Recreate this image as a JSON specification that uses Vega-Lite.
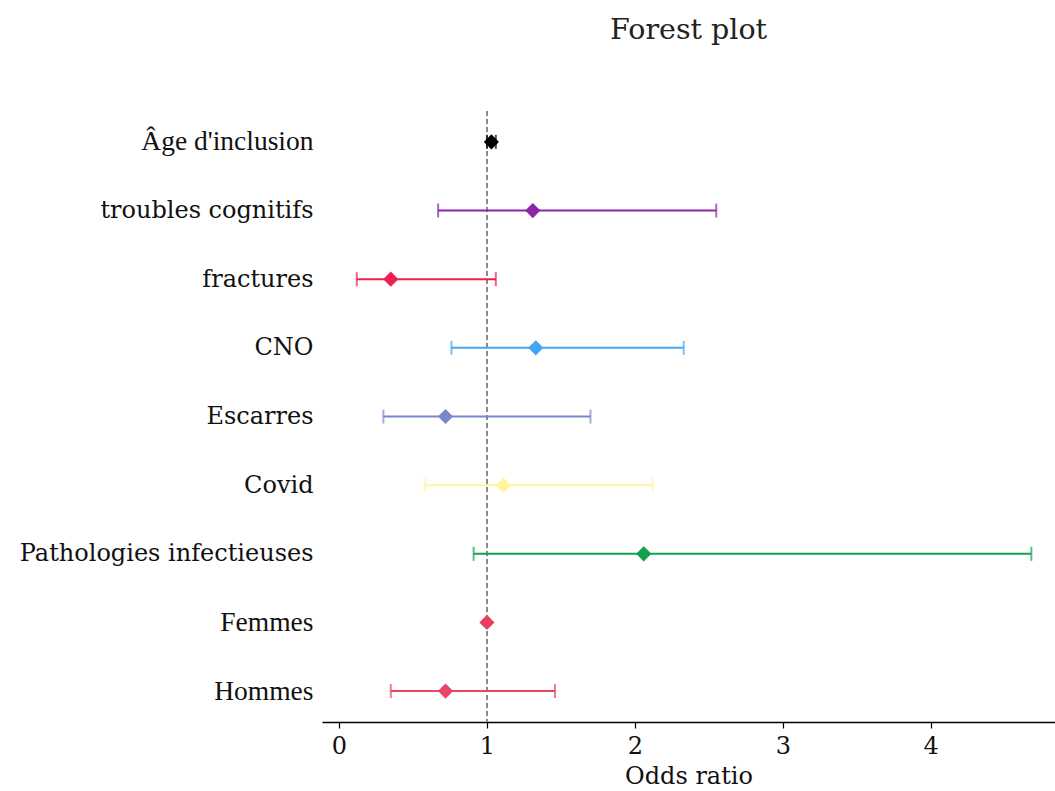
{
  "$schema": "https://vega.github.io/schema/vega-lite/v6.json",
  "autosize": "none",
  "padding": {"left": 322, "top": 111, "right": 0, "bottom": 69},
  "width": 733,
  "height": 611,
  "background": "white",
  "view": {"stroke": null},
  "title": {"text": "Forest plot", "font": "DejaVu Serif", "fontSize": 28.5, "fontWeight": "normal", "color": "#222", "offset": 66, "anchor": "middle"},
  "data": {"values": [
    {"label": "Âge d'inclusion", "or": 1.03, "low": 1.0, "high": 1.06},
    {"label": "troubles cognitifs", "or": 1.31, "low": 0.67, "high": 2.55},
    {"label": "fractures", "or": 0.35, "low": 0.12, "high": 1.06},
    {"label": "CNO", "or": 1.33, "low": 0.76, "high": 2.33},
    {"label": "Escarres", "or": 0.72, "low": 0.30, "high": 1.70},
    {"label": "Covid", "or": 1.11, "low": 0.58, "high": 2.12},
    {"label": "Pathologies infectieuses", "or": 2.06, "low": 0.91, "high": 4.68},
    {"label": "Femmes", "or": 1.0, "low": null, "high": null},
    {"label": "Hommes", "or": 0.72, "low": 0.35, "high": 1.46}
  ]},
  "encoding": {
    "y": {
      "field": "label", "type": "nominal", "title": null,
      "scale": {"type": "point", "padding": 0.45, "domain": ["Âge d'inclusion", "troubles cognitifs", "fractures", "CNO", "Escarres", "Covid", "Pathologies infectieuses", "Femmes", "Hommes"]},
      "axis": {
        "domain": false, "ticks": false, "labelPadding": 9, "labelOffset": 0, "labelLimit": 0,
        "labelColor": "#111",
        "labelFont": {"condition": {"test": "indexof([\"Âge d'inclusion\",\"Femmes\",\"Hommes\"], datum.value) >= 0", "value": "Liberation Serif"}, "value": "DejaVu Serif"},
        "labelFontSize": {"condition": {"test": "indexof([\"Âge d'inclusion\",\"Femmes\",\"Hommes\"], datum.value) >= 0", "value": 27.5}, "value": 24}
      }
    },
    "color": {
      "field": "label", "type": "nominal", "legend": null,
      "scale": {
        "domain": ["Âge d'inclusion", "troubles cognitifs", "fractures", "CNO", "Escarres", "Covid", "Pathologies infectieuses", "Femmes", "Hommes"],
        "range": ["#000000", "#8e24aa", "#ef2050", "#42a5f5", "#7986cb", "#fff59d", "#12a04c", "#e83f5f", "#ea4566"]
      }
    }
  },
  "layer": [
    {
      "mark": {"type": "rule", "strokeDash": [5, 3], "color": "#8a8a8a", "strokeWidth": 1.5},
      "encoding": {"x": {"datum": 1}, "y": null, "color": null}
    },
    {
      "transform": [{"filter": "datum.low != null"}],
      "mark": {"type": "rule", "strokeWidth": 2},
      "encoding": {
        "x": {"field": "low", "type": "quantitative", "scale": {"domain": [-0.115, 4.84], "nice": false, "zero": false},
              "axis": {"values": [0, 1, 2, 3, 4], "format": "d", "grid": false, "domainColor": "#000", "domainWidth": 1.5, "tickColor": "#000", "tickSize": 6, "tickWidth": 1.2, "labelFont": "DejaVu Serif", "labelFontSize": 24, "labelColor": "#111", "labelPadding": 6, "title": "Odds ratio", "titleFont": "DejaVu Serif", "titleFontSize": 24, "titleFontWeight": "normal", "titleColor": "#111", "titlePadding": 6}},
        "x2": {"field": "high"}
      }
    },
    {
      "transform": [{"filter": "datum.low != null"}],
      "mark": {"type": "tick", "orient": "vertical", "size": 14, "thickness": 2},
      "encoding": {"x": {"field": "low", "type": "quantitative"}}
    },
    {
      "transform": [{"filter": "datum.high != null"}],
      "mark": {"type": "tick", "orient": "vertical", "size": 14, "thickness": 2},
      "encoding": {"x": {"field": "high", "type": "quantitative"}}
    },
    {
      "mark": {"type": "point", "shape": "diamond", "filled": true, "size": 230, "opacity": 1},
      "encoding": {"x": {"field": "or", "type": "quantitative"}}
    }
  ]
}
